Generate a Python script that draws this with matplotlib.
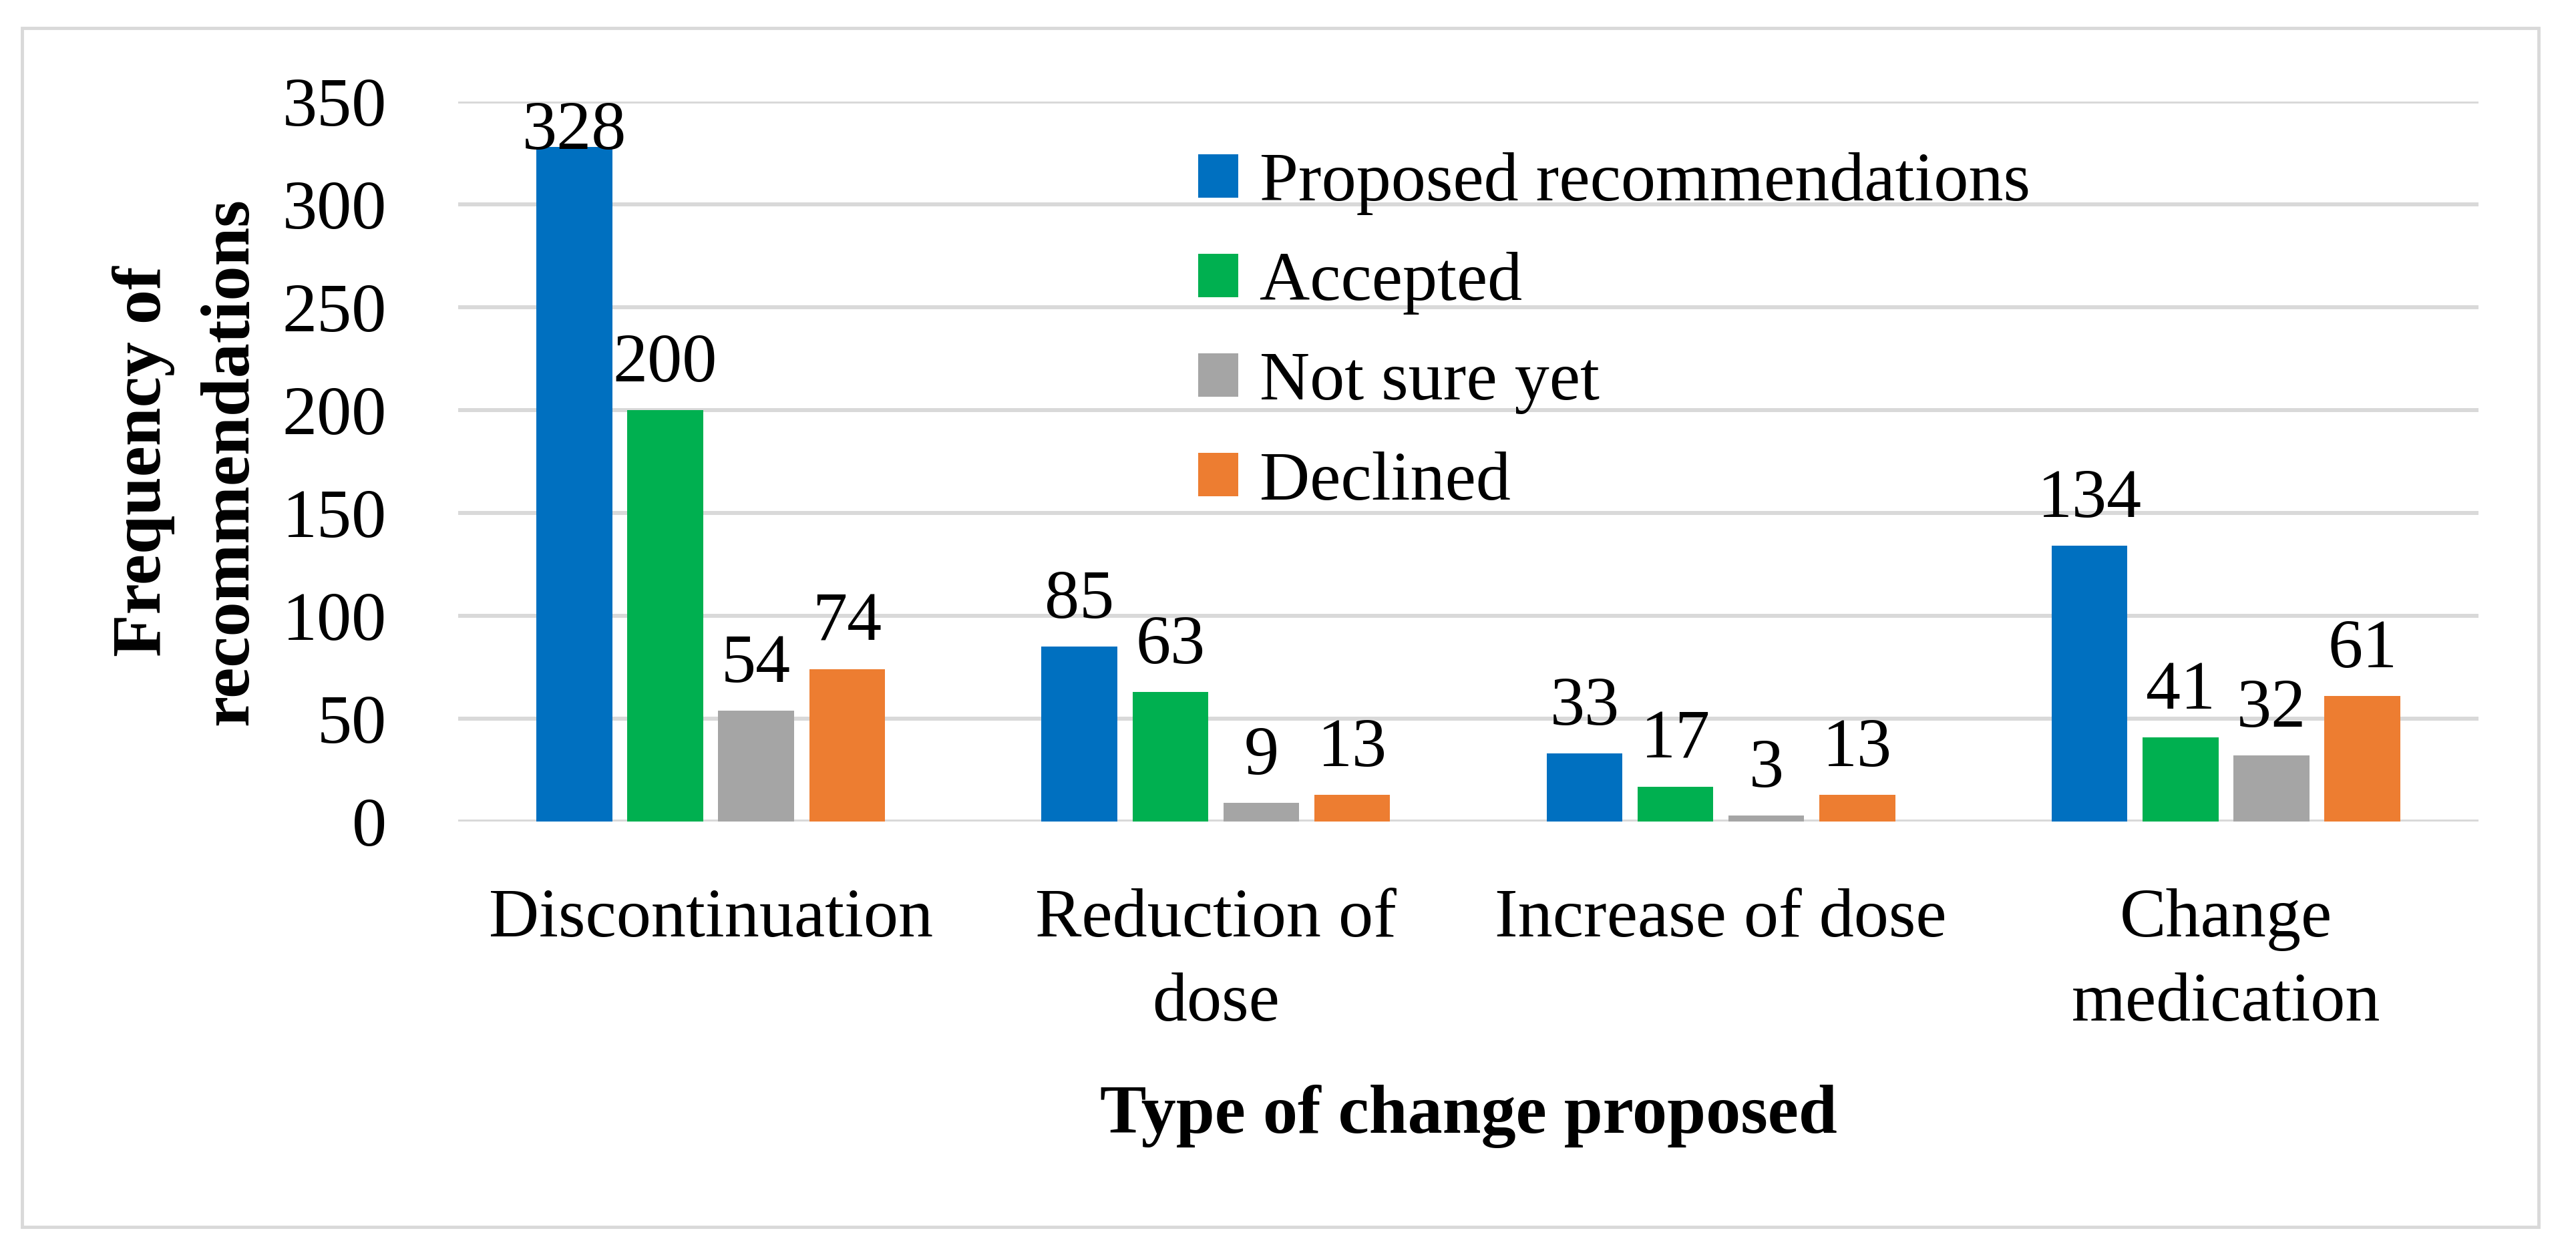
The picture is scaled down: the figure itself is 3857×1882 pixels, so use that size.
import matplotlib.pyplot as plt
from matplotlib.patches import Rectangle

categories = ["Discontinuation", "Reduction of\ndose", "Increase of dose", "Change\nmedication"]
series = ["Proposed recommendations", "Accepted", "Not sure yet", "Declined"]
proposed = [328, 85, 33, 134]
accepted = [200, 63, 17, 41]
not_sure = [54, 9, 3, 32]
declined = [74, 13, 13, 61]
colors = ["#0070C0", "#00B050", "#A5A5A5", "#ED7D31"]

plt.rcParams['font.family'] = ['Liberation Serif', 'DejaVu Serif']
FS = 75

W, H = 3857, 1882
fig = plt.figure(figsize=(W / 100, H / 100), dpi=100)
ax = fig.add_axes([686 / W, 1 - 1230 / H, (3711 - 686) / W, (1230 - 152) / H])

# outer frame
fig.patches.append(Rectangle((33 / W, 1 - 1837 / H), (3801 - 33) / W, (1837 - 42) / H,
                             transform=fig.transFigure, fill=False,
                             edgecolor="#D9D9D9", linewidth=3.5))

step, width = 0.18, 0.15
for j, (name, vals) in enumerate(zip(series, [proposed, accepted, not_sure, declined])):
    xs = [i + (j - 1.5) * step for i in range(len(categories))]
    ax.bar(xs, vals, width=width, color=colors[j], label=name, zorder=3)
    for x, v in zip(xs, vals):
        ax.text(x, min(v + 14, 327), str(v), ha='center', va='baseline',
                fontsize=FS, zorder=4)

ax.set_xlim(-0.5, 3.5)
ax.set_ylim(0, 350)
ax.set_yticks(range(0, 351, 50))
ax.set_xticks(range(len(categories)))
ax.set_xticklabels(categories, fontsize=FS, linespacing=1.45)
ax.tick_params(axis='y', length=0, pad=77, labelsize=FS)
ax.tick_params(axis='x', length=0, pad=72)
ax.grid(axis='y', color="#D9D9D9", linewidth=4.3, zorder=0)
ax.set_axisbelow(True)
for s in ax.spines.values():
    s.set_visible(False)

ax.set_ylabel("Frequency of\nrecommendations", fontsize=FS, fontweight='bold',
              linespacing=1.5)
ax.yaxis.label.set_verticalalignment('center')
ax.yaxis.set_label_coords(-(686 - 280) / (3711 - 686), 0.5)
ax.set_xlabel("Type of change proposed", fontsize=FS, fontweight='bold')
ax.xaxis.label.set_verticalalignment('center')
ax.xaxis.set_label_coords(0.5, -(1671 - 1230) / (1230 - 152))

ax.legend(loc='upper left', bbox_to_anchor=(1794 / W, 1 - 228 / H),
          bbox_transform=fig.transFigure, frameon=False, fontsize=FS,
          handlelength=0.58, handleheight=0.58, handletextpad=0.3,
          labelspacing=0.53, borderpad=0, borderaxespad=0)

fig.savefig("out.png", dpi=100, facecolor='white')
